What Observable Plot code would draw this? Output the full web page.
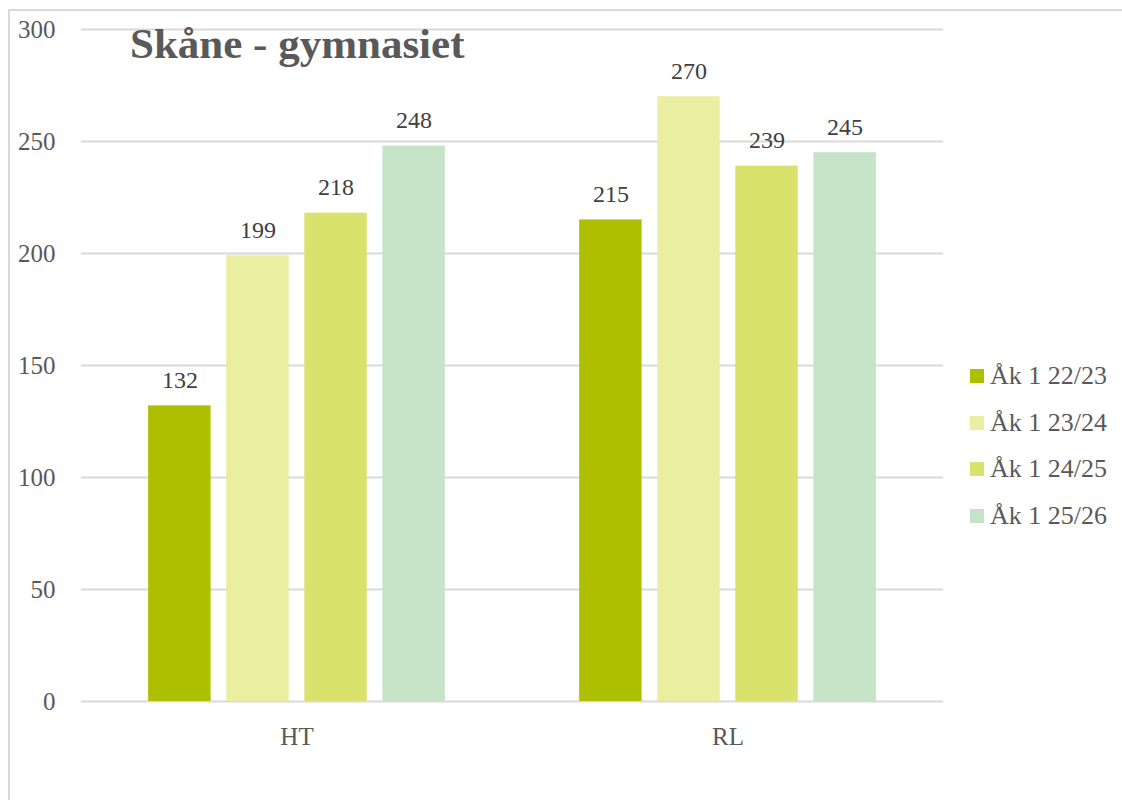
<!DOCTYPE html>
<html><head><meta charset="utf-8">
<script src="https://cdn.jsdelivr.net/npm/d3@7"></script>
<script src="https://cdn.jsdelivr.net/npm/@observablehq/plot@0.6"></script>
<style>
body{margin:0;background:#fff;}
#wrap{position:relative;width:1122px;height:800px;overflow:hidden;font-family:"Liberation Serif",serif;}
#frame{position:absolute;left:8px;top:9px;width:1200px;height:900px;border-left:2px solid #d9d9d9;border-top:2px solid #d9d9d9;}
#chart{position:absolute;left:0;top:0;}
#title{position:absolute;left:130px;top:22px;font-weight:bold;font-size:43px;line-height:1;color:#595959;white-space:nowrap;}
#legend{position:absolute;left:970px;top:353px;}
.item{display:flex;align-items:center;height:46.5px;font-size:26px;color:#595959;white-space:nowrap;}
.sw{width:14px;height:14px;margin-right:6px;flex:none;}
</style></head>
<body>
<div id="wrap">
  <div id="frame"></div>
  <div id="chart"></div>
  <div id="title">Skåne - gymnasiet</div>
  <div id="legend"></div>
</div>
<script>
const categories = ["HT", "RL"];
const series = ["Åk 1 22/23", "Åk 1 23/24", "Åk 1 24/25", "Åk 1 25/26"];
const values2223 = [132, 215];
const values2324 = [199, 270];
const values2425 = [218, 239];
const values2526 = [248, 245];
const colors = ["#aebf00", "#e9eea1", "#d9e26c", "#c4e3c7"];

const seriesValues = [values2223, values2324, values2425, values2526];
const rows = [];
categories.forEach((c, i) => series.forEach((s, j) => rows.push({cat: c, series: s, value: seriesValues[j][i]})));

const chart = Plot.plot({
  width: 1122, height: 800,
  marginLeft: 80, marginRight: 179, marginTop: 29, marginBottom: 99,
  style: {fontFamily: "Liberation Serif", fontSize: "25px", color: "#595959", background: "transparent"},
  fx: {domain: categories, padding: 0, label: null, tickSize: 0, tickPadding: 26},
  x: {domain: series, paddingInner: 0.2, paddingOuter: 0.86, round: false, axis: null},
  y: {domain: [0, 300], ticks: 6, tickSize: 0, tickPadding: 26, label: null},
  color: {domain: series, range: colors},
  marks: [
    Plot.ruleY([0, 50, 100, 150, 200, 250, 300], {stroke: "#d9d9d9", strokeWidth: 2}),
    Plot.barY(rows, {fx: "cat", x: "series", y: "value", fill: "series"}),
    Plot.text(rows, {fx: "cat", x: "series", y: "value", text: d => String(d.value), lineAnchor: "bottom", dy: -18, fill: "#404040", fontSize: 24})
  ]
});
document.getElementById("chart").appendChild(chart);

const legend = document.getElementById("legend");
series.forEach((s, i) => {
  const it = document.createElement("div");
  it.className = "item";
  const sw = document.createElement("span");
  sw.className = "sw";
  sw.style.background = colors[i];
  const t = document.createElement("span");
  t.textContent = s;
  it.appendChild(sw); it.appendChild(t);
  legend.appendChild(it);
});
</script>
</body></html>
